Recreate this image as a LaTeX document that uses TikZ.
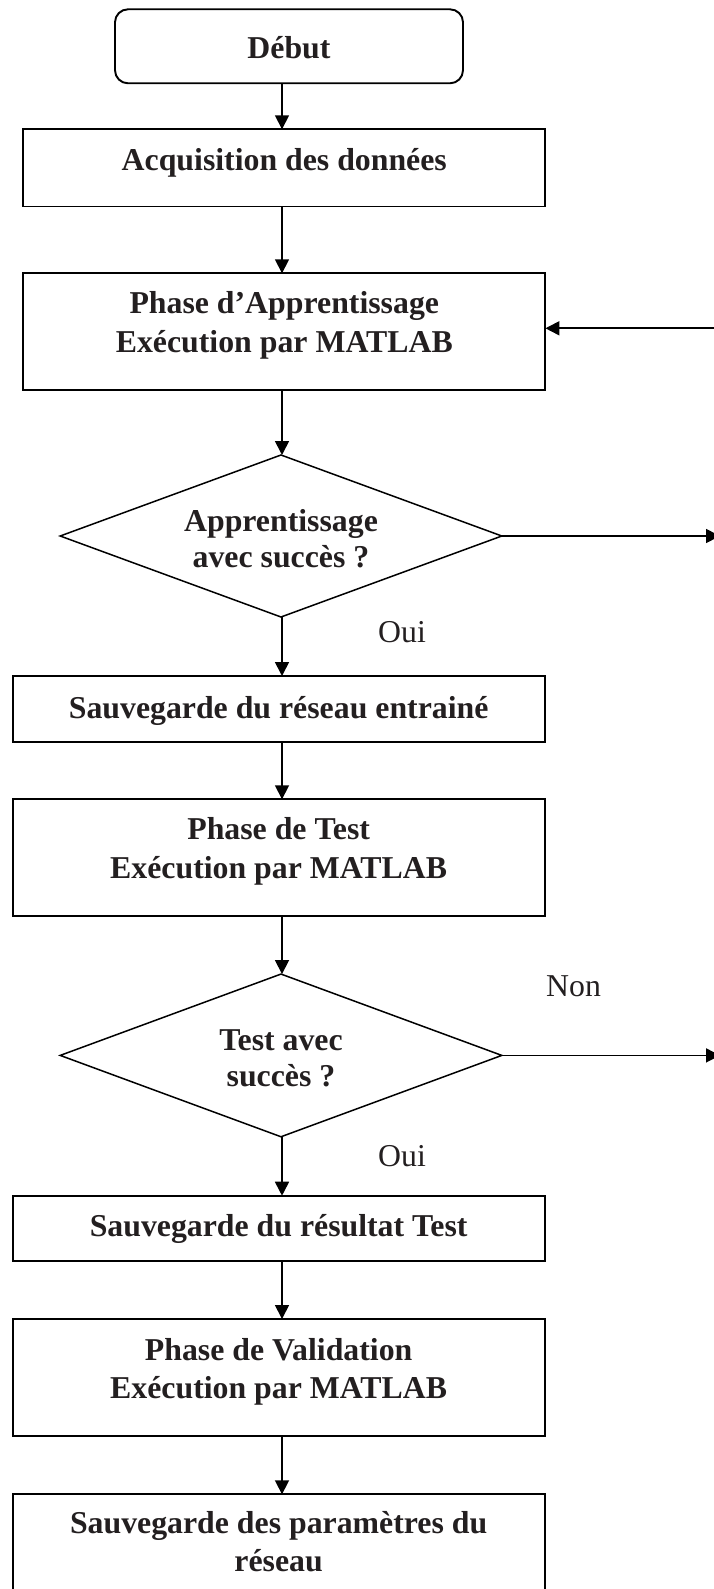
\documentclass[tikz,border=0pt]{standalone}
\usepackage{fontspec}
\setmainfont{Liberation Serif}
\usetikzlibrary{arrows.meta,shapes.geometric}
\definecolor{ink}{HTML}{231F20}
% two centred lines whose baseline is the first line
\newcommand{\mklines}[2]{\begin{tabular}[t]{@{}c@{}}#1\\#2\end{tabular}}
\begin{document}
\begin{tikzpicture}[x=1pt,y=-1pt,
  box/.style={draw=black, line width=1.9pt, inner sep=0pt, outer sep=0pt,
    anchor=north west, text=ink,
    font=\bfseries\fontsize{31.8}{38.5}\selectfont},
  decision/.style={draw=black, line width=1.5pt, shape=diamond, aspect=2.726,
    inner sep=0pt, outer sep=0pt, minimum width=441.6pt, text=ink,
    font=\bfseries\fontsize{31.8}{36}\selectfont},
  lbl/.style={anchor=base west, inner sep=0pt, text=ink,
    font=\fontsize{31.8}{38.5}\selectfont},
  arr/.style={draw=black, line width=1.7pt, -{Triangle[length=14pt,width=14pt]}}]
\useasboundingbox (0,0) rectangle (714,1589);
\clip (0,0) rectangle (714,1589);

% main column of the flow
\coordinate (spine) at (282,0);

\node[box, rounded corners=13pt, minimum width=348pt, text height=49.7pt, text depth=24.3pt]
  (debut) at (115,9.3) {Début};
\node[box, minimum width=522.2pt, text height=41pt, text depth=36.2pt]
  (acq) at (23.2,129.3) {Acquisition des données};
\node[box, minimum width=522.2pt, text height=40.5pt, text depth=76.2pt]
  (app) at (23.2,273.3) {\mklines{Phase d’Apprentissage}{Exécution par MATLAB}};
\node[decision, minimum height=162pt, text height=22pt, text depth=30.6pt]
  (d1) at (281,536) {\mklines{Apprentissage}{avec succès ?}};
\node[box, minimum width=531.9pt, text height=42pt, text depth=23.7pt]
  (sav1) at (12.7,676) {Sauvegarde du réseau entrainé};
\node[box, minimum width=531.9pt, text height=40.5pt, text depth=76.2pt]
  (test) at (12.7,799.3) {\mklines{Phase de Test}{Exécution par MATLAB}};
\node[decision, minimum height=162.7pt, text height=22pt, text depth=32.8pt]
  (d2) at (281,1055.4) {\mklines{Test avec}{succès ?}};
\node[box, minimum width=531.9pt, text height=41pt, text depth=24.3pt]
  (sav2) at (12.7,1195.7) {Sauvegarde du résultat Test};
\node[box, minimum width=531.9pt, text height=41pt, text depth=75.7pt]
  (valid) at (12.7,1319) {\mklines{Phase de Validation}{Exécution par MATLAB}};
\node[box, minimum width=531.9pt, text height=38.7pt, text depth=110pt]
  (param) at (12.7,1494.3) {\mklines{Sauvegarde des paramètres du}{réseau}};

% downward connectors
\draw[arr] (debut.south -| spine) -- (acq.north -| spine);
\draw[arr] (acq.south -| spine) -- (app.north -| spine);
\draw[arr] (app.south -| spine) -- (d1.north -| spine);
\draw[arr] (d1.south -| spine) -- (sav1.north -| spine);
\draw[arr] (sav1.south -| spine) -- (test.north -| spine);
\draw[arr] (test.south -| spine) -- (d2.north -| spine);
\draw[arr] (d2.south -| spine) -- (sav2.north -| spine);
\draw[arr] (sav2.south -| spine) -- (valid.north -| spine);
\draw[arr] (valid.south -| spine) -- (param.north -| spine);

% branches leaving to the right and the return into the learning phase
\coordinate (out1) at (720,536);
\coordinate (out2) at (720,1055.4);
\coordinate (back) at (720,328.3);
\draw[arr] (d1.east) -- (out1);
\draw[arr] (d2.east) -- (out2);
\draw[arr] (back) -- (back -| app.east);

% branch labels
\node[lbl] (oui1) at (378,642.7) {Oui};
\node[lbl] (non) at (546,996.7) {Non};
\node[lbl] (oui2) at (378,1166.7) {Oui};
\end{tikzpicture}
\end{document}
